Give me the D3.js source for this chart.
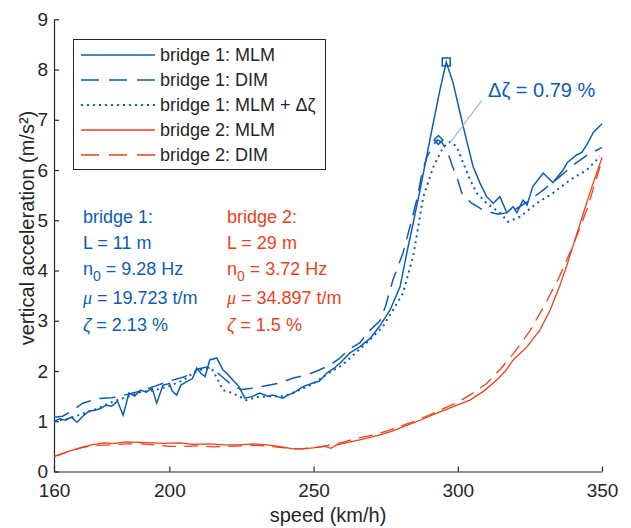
<!DOCTYPE html>
<html>
<head>
<meta charset="utf-8">
<script src="https://cdn.jsdelivr.net/npm/d3@7"></script>
<style>
  body { margin: 0; background: #fff; }
  svg text { font-family: Arial, "Liberation Sans", sans-serif; }
</style>
</head>
<body>
<div id="chart"></div>
<script>
// speeds (km/h) and vertical accelerations (m/s^2)
const b1MlmSpeed = [160, 162, 164, 166, 168, 170, 172, 174, 176, 178, 180, 182, 184, 186, 188, 190, 192, 194, 195.6, 197.8, 200, 201, 202.5, 204, 206, 208, 209.5, 211, 212.4, 214, 216.4, 218.6, 220, 222, 224, 226.2, 228.5, 231.4, 234, 236, 238, 239.4, 241, 243, 246.3, 249.8, 252, 254.6, 257, 259.2, 262.6, 266, 269.6, 273, 276.5, 280, 282.5, 284, 286.9, 289.2, 291.5, 293.8, 296, 298.4, 300.8, 303, 305.3, 307.7, 310, 312.3, 314.6, 317, 319.2, 320.5, 322.6, 324, 326, 329.6, 333, 336.5, 338, 341.2, 343, 344.7, 347, 350];
const b1MlmAcc = [1.0, 1.05, 1.02, 1.08, 0.98, 1.1, 1.2, 1.22, 1.25, 1.32, 1.3, 1.4, 1.12, 1.56, 1.5, 1.62, 1.58, 1.66, 1.36, 1.72, 1.75, 1.6, 1.52, 1.72, 1.79, 1.85, 2.06, 1.95, 1.89, 2.22, 2.26, 2.02, 1.95, 1.82, 1.7, 1.46, 1.49, 1.56, 1.5, 1.52, 1.48, 1.46, 1.52, 1.56, 1.69, 1.76, 1.8, 1.96, 2.05, 2.16, 2.36, 2.48, 2.65, 2.9, 3.21, 3.68, 4.4, 4.8, 5.6, 6.27, 6.94, 7.59, 8.15, 7.73, 7.13, 6.6, 6.07, 5.74, 5.47, 5.34, 5.47, 5.15, 5.27, 5.15, 5.4, 5.3, 5.67, 5.94, 5.75, 6.0, 6.15, 6.3, 6.35, 6.5, 6.75, 6.92];

const b1DimSpeed = [160, 163, 166, 170, 175, 180, 185, 190, 195, 200, 205, 210, 213, 216, 219, 222, 225, 229, 233, 238, 243, 248, 252, 256, 259, 262, 266, 269, 273, 275, 277.5, 281, 284, 286, 287.6, 289.3, 291.5, 293, 294.5, 296.6, 298, 300, 301.4, 304.8, 308.8, 312, 314, 317, 320, 325, 330, 335, 340, 345, 350];
const b1DimAcc = [1.08, 1.1, 1.2, 1.36, 1.45, 1.47, 1.53, 1.6, 1.7, 1.8, 1.88, 2.04, 2.08, 2.0, 1.85, 1.7, 1.63, 1.66, 1.7, 1.76, 1.86, 1.93, 2.02, 2.13, 2.25, 2.42, 2.56, 2.78, 3.0, 3.3, 3.81, 4.35, 5.0, 5.46, 5.94, 6.26, 6.5, 6.6, 6.55, 6.34, 6.1, 5.8, 5.54, 5.34, 5.2, 5.15, 5.12, 5.15, 5.22, 5.4, 5.62, 5.85, 6.1, 6.3, 6.45];

const b1DzSpeed = [160, 165, 170, 175, 180, 185, 190, 195, 200, 205, 208, 210.6, 213, 215, 217, 218.6, 222, 226.8, 230, 235, 240, 245, 250, 255, 260, 265, 270, 274, 277.5, 281, 284.5, 285.7, 288, 291.5, 295, 297.3, 299.6, 301.9, 304.3, 306.6, 310, 314.6, 317.4, 321.6, 327.4, 333, 338.9, 344.7, 349.3];
const b1DzAcc = [1.0, 1.05, 1.15, 1.25, 1.38, 1.48, 1.58, 1.62, 1.7, 1.82, 1.95, 2.02, 2.05, 2.02, 1.8, 1.62, 1.56, 1.42, 1.48, 1.5, 1.5, 1.62, 1.75, 1.95, 2.12, 2.38, 2.65, 2.88, 3.21, 3.55, 4.28, 4.67, 5.46, 6.06, 6.46, 6.56, 6.47, 6.14, 5.8, 5.54, 5.34, 5.15, 4.97, 5.07, 5.34, 5.54, 5.8, 6.0, 6.27];

const b2MlmSpeed = [160, 162, 165, 169, 173, 177, 181, 185, 190, 194, 198, 203.7, 208, 214, 219, 224.5, 229, 233.7, 238, 242.9, 246, 249.8, 254, 256, 258, 262, 266, 269.6, 273, 277, 281, 287, 292.7, 298, 304.2, 309, 313.5, 316.5, 319.2, 324, 328.5, 332, 335.4, 337.8, 340, 342.5, 344.7, 347, 350];
const b2MlmAcc = [0.3, 0.33, 0.4, 0.47, 0.53, 0.57, 0.56, 0.59, 0.58, 0.57, 0.56, 0.57, 0.54, 0.55, 0.53, 0.53, 0.55, 0.53, 0.5, 0.45, 0.45, 0.47, 0.5, 0.46, 0.53, 0.58, 0.63, 0.68, 0.73, 0.8, 0.89, 1.02, 1.16, 1.28, 1.42, 1.6, 1.82, 2.0, 2.22, 2.48, 2.82, 3.21, 3.7, 4.1, 4.5, 4.95, 5.35, 5.75, 6.25];

const b2DimSpeed = [160, 165, 170, 175, 180, 185, 190, 195, 200, 205, 210, 215, 220, 225, 230, 235, 240, 245, 250, 255, 260, 265, 270, 275, 280, 285, 290, 295, 300, 305, 310, 315, 320, 325, 330, 335, 340, 345, 350];
const b2DimAcc = [0.3, 0.4, 0.48, 0.52, 0.53, 0.55, 0.55, 0.53, 0.5, 0.5, 0.51, 0.49, 0.5, 0.51, 0.52, 0.5, 0.47, 0.45, 0.47, 0.52, 0.58, 0.66, 0.72, 0.8, 0.9, 1.0, 1.12, 1.25, 1.38, 1.55, 1.75, 2.05, 2.4, 2.8, 3.3, 3.85, 4.5, 5.25, 6.2];

const xTicks = [160, 200, 250, 300, 350];
const yTicks = [0, 1, 2, 3, 4, 5, 6, 7, 8, 9];

const legendLabels = ["bridge 1: MLM", "bridge 1: DIM", "bridge 1: MLM + \u0394\u03b6", "bridge 2: MLM", "bridge 2: DIM"];

// markers / annotation (data coordinates)
const peakMlm = [296, 8.15];
const peakDim = [293.3, 6.6];
const annoLine = [[308.4, 7.39], [297.3, 6.54]];
const annoText = [310.5, 7.45];

const blue = "#0b5db5";
const red = "#e8421d";
const axisColor = "#262626";

const width = 631, height = 528;

const svg = d3.select("#chart").append("svg")
  .attr("width", width)
  .attr("height", height);

const x = d3.scaleLinear().domain([160, 350]).range([54, 602]);
const y = d3.scaleLinear().domain([0, 9]).range([471.5, 19.3]);

// axes (MATLAB style, ticks pointing inward, no box)
const xAxis = svg.append("g")
  .attr("transform", `translate(0,${y(0)})`)
  .call(d3.axisBottom(x).tickValues(xTicks).tickSizeInner(-5).tickSizeOuter(0).tickPadding(12).tickFormat(d3.format("d")));
const yAxis = svg.append("g")
  .attr("transform", `translate(${x(160)},0)`)
  .call(d3.axisLeft(y).tickValues(yTicks).tickSizeInner(-5).tickSizeOuter(0).tickPadding(6).tickFormat(d3.format("d")));

[xAxis, yAxis].forEach(g => {
  g.select(".domain").attr("stroke", axisColor).attr("stroke-width", 1.2);
  g.selectAll(".tick line").attr("stroke", axisColor).attr("stroke-width", 1.2);
  g.selectAll(".tick text")
    .attr("fill", axisColor)
    .style("font-size", "19px")
    .style("font-family", "Arial, 'Liberation Sans', sans-serif");
});

// axis titles
svg.append("text")
  .attr("x", (x(160) + x(350)) / 2)
  .attr("y", 522)
  .attr("text-anchor", "middle")
  .attr("fill", axisColor)
  .style("font-size", "20px")
  .text("speed (km/h)");

svg.append("text")
  .attr("transform", "translate(34,228) rotate(-90)")
  .attr("text-anchor", "middle")
  .attr("fill", axisColor)
  .style("font-size", "20px")
  .text("vertical acceleration (m/s\u00b2)");

// lines
const line = d3.line().x(d => x(d[0])).y(d => y(d[1]));
const series = [
  { s: b2DimSpeed, a: b2DimAcc, color: red, dash: "14,8", w: 1.3 },
  { s: b2MlmSpeed, a: b2MlmAcc, color: red, dash: null, w: 1.3 },
  { s: b1DimSpeed, a: b1DimAcc, color: blue, dash: "16,9", w: 1.5 },
  { s: b1DzSpeed, a: b1DzAcc, color: blue, dash: "2,4", w: 2 },
  { s: b1MlmSpeed, a: b1MlmAcc, color: blue, dash: null, w: 1.5 }
];

series.forEach(d => {
  svg.append("path")
    .datum(d3.zip(d.s, d.a))
    .attr("d", line)
    .attr("fill", "none")
    .attr("stroke", d.color)
    .attr("stroke-width", d.w)
    .attr("stroke-dasharray", d.dash);
});

// markers
svg.append("rect")
  .attr("x", x(peakMlm[0]) - 4)
  .attr("y", y(peakMlm[1]) - 4)
  .attr("width", 8)
  .attr("height", 8)
  .attr("fill", "none")
  .attr("stroke", blue)
  .attr("stroke-width", 1.5);

svg.append("path")
  .attr("d", d3.symbol().type(d3.symbolDiamond2).size(50))
  .attr("transform", `translate(${x(peakDim[0])},${y(peakDim[1])})`)
  .attr("fill", "none")
  .attr("stroke", blue)
  .attr("stroke-width", 1.5);

// annotation
svg.append("line")
  .attr("x1", x(annoLine[0][0])).attr("y1", y(annoLine[0][1]))
  .attr("x2", x(annoLine[1][0])).attr("y2", y(annoLine[1][1]))
  .attr("stroke", "#b4b4b4")
  .attr("stroke-width", 1.2);

svg.append("text")
  .attr("x", x(annoText[0]))
  .attr("y", y(annoText[1]))
  .attr("fill", blue)
  .style("font-size", "20px")
  .text("\u0394\u03b6 = 0.79 %");

// parameter text blocks
function paramBlock(px, color, name, L, n0, mu, zeta) {
  const g = svg.append("g").attr("fill", color).style("font-size", "18px");
  g.append("text").attr("x", px).attr("y", 223).text(name);
  g.append("text").attr("x", px).attr("y", 249).text(L);
  const n = g.append("text").attr("x", px).attr("y", 275);
  n.append("tspan").text("n");
  n.append("tspan").attr("dy", 6).style("font-size", "14px").text("0");
  n.append("tspan").attr("dy", -6).text(" = " + n0);
  const m = g.append("text").attr("x", px).attr("y", 304);
  m.append("tspan").style("font-family", "'Liberation Serif', serif").style("font-style", "italic").text("\u03bc");
  m.append("tspan").text(" = " + mu);
  const z = g.append("text").attr("x", px).attr("y", 331);
  z.append("tspan").style("font-style", "italic").text("\u03b6");
  z.append("tspan").text(" = " + zeta);
}
paramBlock(83, blue, "bridge 1:", "L = 11 m", "9.28 Hz", "19.723 t/m", "2.13 %");
paramBlock(227, red, "bridge 2:", "L = 29 m", "3.72 Hz", "34.897 t/m", "1.5 %");

// legend
const legend = svg.append("g");
legend.append("rect")
  .attr("x", 73.5).attr("y", 39.5)
  .attr("width", 252).attr("height", 130)
  .attr("fill", "#fff")
  .attr("stroke", axisColor)
  .attr("stroke-width", 1);

const legendStyle = [
  { color: blue, dash: null, w: 1.5 },
  { color: blue, dash: "18,10", w: 1.5 },
  { color: blue, dash: "2,4", w: 2 },
  { color: red, dash: null, w: 1.3 },
  { color: red, dash: "18,10", w: 1.3 }
];

legendLabels.forEach((lab, i) => {
  const ly = 55 + i * 25;
  legend.append("line")
    .attr("x1", 81).attr("x2", 155)
    .attr("y1", ly).attr("y2", ly)
    .attr("stroke", legendStyle[i].color)
    .attr("stroke-width", legendStyle[i].w)
    .attr("stroke-dasharray", legendStyle[i].dash);
  legend.append("text")
    .attr("x", 160).attr("y", ly + 6)
    .attr("fill", axisColor)
    .style("font-size", "18px")
    .text(lab);
});
</script>
</body>
</html>
